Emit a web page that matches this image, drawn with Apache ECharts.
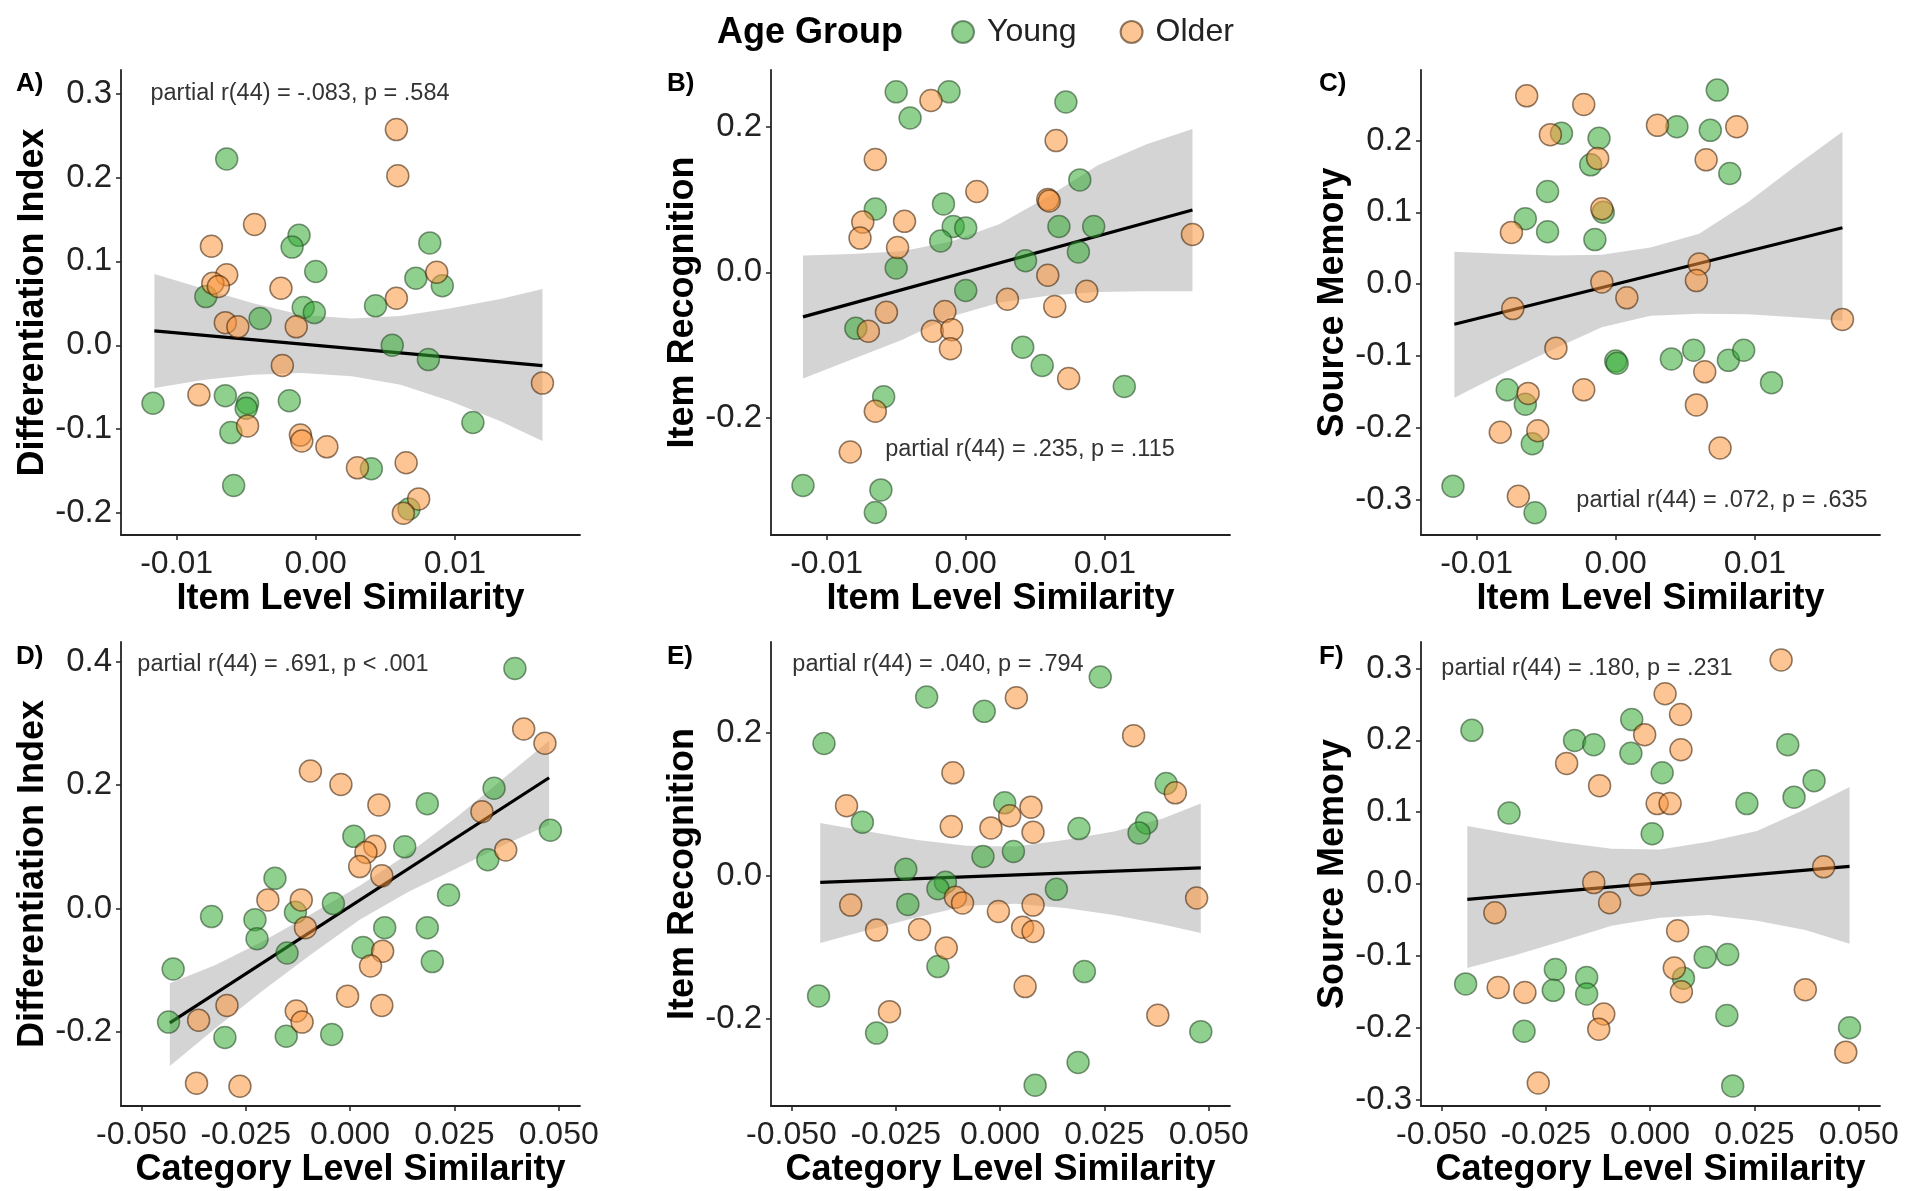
<!DOCTYPE html>
<html><head><meta charset="utf-8">
<script src="https://cdn.jsdelivr.net/npm/echarts@6/dist/echarts.min.js"></script>
<style>html,body{margin:0;padding:0;background:#fff}#c{width:1911px;height:1191px}</style>
</head><body><div id="c"></div>
<script>
// ---------- DATA ----------
const itemTicks = [-0.01, 0, 0.01];
const catTicks = [-0.05, -0.025, 0, 0.025, 0.05];
const yTicksA = [-0.2, -0.1, 0, 0.1, 0.2, 0.3];
const yTicksB = [-0.2, 0, 0.2];
const yTicksC = [-0.3, -0.2, -0.1, 0, 0.1, 0.2];
const yTicksD = [-0.2, 0, 0.2, 0.4];
const yTicksE = [-0.2, 0, 0.2];
const yTicksF = [-0.3, -0.2, -0.1, 0, 0.1, 0.2, 0.3];

const aYoung = [[-0.0064,0.222],[-0.0012,0.131],[-0.0017,0.117],[0.0082,0.122],[0.0,0.088],[0.0072,0.080],[0.0091,0.071],[-0.0079,0.058],[-0.0040,0.032],[-0.0009,0.045],[-0.0001,0.039],[0.0043,0.047],[0.0055,0.000],[0.0081,-0.017],[-0.0117,-0.069],[-0.0065,-0.060],[-0.0049,-0.069],[-0.0050,-0.075],[-0.0019,-0.066],[-0.0061,-0.104],[0.0113,-0.092],[0.0040,-0.147],[-0.0059,-0.167],[0.0067,-0.195]];
const aOlder = [[0.0058,0.257],[0.0059,0.202],[-0.0044,0.144],[-0.0075,0.118],[-0.0064,0.084],[-0.0074,0.074],[-0.0070,0.070],[-0.0025,0.068],[0.0087,0.087],[0.0058,0.056],[-0.0065,0.027],[-0.0056,0.022],[-0.0014,0.022],[-0.0024,-0.024],[-0.0084,-0.059],[-0.0049,-0.096],[-0.0011,-0.107],[-0.0010,-0.114],[0.0008,-0.121],[0.0030,-0.146],[0.0065,-0.140],[0.0074,-0.183],[0.0063,-0.200],[0.0163,-0.045]];
const bYoung = [[-0.0050,0.248],[-0.0012,0.248],[-0.0040,0.212],[0.0072,0.234],[0.0082,0.127],[-0.0016,0.094],[-0.0065,0.087],[-0.0009,0.063],[0.0,0.061],[0.0067,0.063],[0.0092,0.063],[-0.0018,0.043],[-0.0050,0.006],[0.0043,0.016],[0.0081,0.028],[0.0,-0.025],[-0.0079,-0.077],[0.0041,-0.103],[0.0055,-0.128],[0.0114,-0.157],[-0.0059,-0.171],[-0.0117,-0.293],[-0.0061,-0.299],[-0.0065,-0.330]];
const bOlder = [[-0.0025,0.236],[-0.0065,0.155],[0.0008,0.111],[0.0059,0.100],[0.0060,0.098],[0.0065,0.181],[-0.0074,0.069],[-0.0076,0.047],[-0.0044,0.070],[-0.0049,0.034],[0.0163,0.052],[0.0059,-0.004],[0.0087,-0.026],[0.0030,-0.037],[0.0064,-0.047],[-0.0057,-0.055],[-0.0070,-0.081],[-0.0015,-0.054],[-0.0024,-0.081],[-0.0010,-0.079],[-0.0011,-0.105],[0.0074,-0.146],[-0.0065,-0.191],[-0.0083,-0.247]];
const cYoung = [[0.0073,0.270],[0.0044,0.219],[0.0068,0.214],[-0.0039,0.210],[-0.0012,0.203],[-0.0018,0.166],[0.0082,0.154],[-0.0049,0.129],[-0.0065,0.091],[-0.0049,0.073],[-0.0009,0.100],[-0.0015,0.062],[0.0,-0.107],[0.0001,-0.110],[0.0040,-0.104],[0.0056,-0.092],[0.0081,-0.106],[0.0092,-0.092],[0.0112,-0.137],[-0.0078,-0.147],[-0.0065,-0.167],[-0.0060,-0.222],[-0.0117,-0.281],[-0.0058,-0.318]];
const cOlder = [[-0.0064,0.262],[-0.0023,0.250],[-0.0047,0.208],[0.0030,0.221],[0.0087,0.219],[-0.0013,0.175],[0.0065,0.173],[-0.0010,0.105],[-0.0075,0.072],[0.0060,0.028],[-0.0010,0.003],[0.0058,0.005],[0.0008,-0.019],[-0.0074,-0.034],[0.0163,-0.049],[-0.0043,-0.089],[0.0064,-0.122],[-0.0063,-0.152],[-0.0023,-0.147],[-0.0056,-0.204],[-0.0083,-0.206],[0.0058,-0.168],[0.0075,-0.228],[-0.0070,-0.295]];
const dYoung = [[0.0395,0.389],[0.0345,0.195],[0.0480,0.127],[0.0185,0.170],[0.0009,0.117],[0.0131,0.100],[0.0330,0.079],[-0.0180,0.049],[-0.0040,0.008],[0.0236,0.022],[-0.0332,-0.013],[-0.0228,-0.018],[-0.0131,-0.006],[-0.0223,-0.049],[0.0083,-0.031],[0.0185,-0.031],[-0.0151,-0.072],[0.0031,-0.063],[0.0197,-0.086],[-0.0424,-0.098],[-0.0435,-0.184],[-0.0300,-0.209],[-0.0153,-0.207],[-0.0044,-0.204]];
const dOlder = [[0.0416,0.291],[0.0467,0.268],[-0.0095,0.223],[-0.0022,0.201],[0.0069,0.168],[0.0316,0.157],[0.0373,0.095],[0.0059,0.101],[0.0038,0.091],[0.0023,0.068],[0.0076,0.053],[-0.0197,0.014],[-0.0117,0.014],[-0.0107,-0.031],[0.0078,-0.069],[0.0049,-0.093],[-0.0006,-0.142],[0.0076,-0.157],[-0.0295,-0.157],[-0.0129,-0.166],[-0.0115,-0.184],[-0.0363,-0.181],[-0.0368,-0.283],[-0.0264,-0.288]];
const eYoung = [[0.0240,0.278],[-0.0176,0.250],[-0.0038,0.230],[-0.0422,0.185],[0.0398,0.129],[0.0011,0.102],[-0.0330,0.075],[0.0189,0.066],[0.0351,0.074],[0.0333,0.060],[0.0032,0.034],[-0.0041,0.027],[-0.0226,0.009],[-0.0131,-0.009],[-0.0149,-0.018],[0.0135,-0.019],[-0.0221,-0.040],[-0.0149,-0.127],[0.0202,-0.134],[-0.0435,-0.168],[-0.0296,-0.220],[0.0481,-0.218],[0.0187,-0.261],[0.0084,-0.293]];
const eOlder = [[0.0039,0.249],[0.0320,0.196],[-0.0113,0.144],[-0.0368,0.098],[0.0420,0.116],[0.0074,0.096],[0.0023,0.084],[-0.0117,0.069],[-0.0022,0.067],[0.0079,0.061],[-0.0358,-0.041],[-0.0107,-0.030],[-0.0090,-0.038],[-0.0004,-0.050],[0.0079,-0.041],[0.0471,-0.031],[-0.0296,-0.076],[-0.0193,-0.075],[0.0054,-0.072],[0.0079,-0.078],[-0.0129,-0.101],[0.0060,-0.155],[-0.0265,-0.190],[0.0378,-0.195]];
const fYoung = [[-0.0427,0.214],[-0.0181,0.200],[-0.0135,0.194],[-0.0044,0.229],[-0.0046,0.182],[0.0029,0.155],[0.0330,0.194],[0.0393,0.144],[0.0345,0.121],[0.0232,0.112],[-0.0338,0.099],[0.0005,0.070],[0.0132,-0.102],[0.0186,-0.098],[-0.0227,-0.119],[-0.0152,-0.130],[-0.0442,-0.139],[-0.0232,-0.148],[-0.0152,-0.153],[0.0080,-0.131],[-0.0302,-0.205],[0.0184,-0.183],[0.0478,-0.200],[0.0198,-0.281]];
const fOlder = [[0.0314,0.312],[0.0036,0.265],[0.0073,0.236],[-0.0013,0.208],[0.0074,0.187],[-0.0200,0.168],[-0.0121,0.137],[0.0017,0.112],[0.0048,0.112],[0.0416,0.024],[-0.0135,0.002],[-0.0024,-0.001],[-0.0097,-0.026],[-0.0372,-0.040],[0.0066,-0.065],[0.0058,-0.117],[0.0075,-0.150],[-0.0364,-0.144],[-0.0300,-0.151],[0.0372,-0.147],[-0.0111,-0.181],[-0.0123,-0.202],[0.0469,-0.234],[-0.0268,-0.277]];

const aFit = [[-0.0116,0.0173],[0.0163,-0.0241]];
const bFit = [[-0.0117,-0.0612],[0.0163,0.0857]];
const cFit = [[-0.0116,-0.0557],[0.0163,0.0786]];
const dFit = [[-0.0432,-0.1854],[0.0477,0.2120]];
const eFit = [[-0.0431,-0.0092],[0.0481,0.0112]];
const fFit = [[-0.0438,-0.0214],[0.0478,0.0245]];

const aBandX = [-0.0116,-0.0080,-0.0045,-0.0010,0.0026,0.0061,0.0096,0.0132,0.0163];
const aBandHi = [0.085,0.067,0.050,0.036,0.032,0.035,0.044,0.055,0.067];
const aBandLo = [-0.051,-0.041,-0.035,-0.033,-0.037,-0.047,-0.066,-0.090,-0.114];
const bBandX = [-0.0117,-0.0082,-0.0046,-0.0011,0.0024,0.0060,0.0095,0.0130,0.0163];
const bBandHi = [0.023,0.025,0.029,0.042,0.066,0.105,0.147,0.176,0.197];
const bBandLo = [-0.146,-0.120,-0.093,-0.061,-0.042,-0.032,-0.027,-0.026,-0.026];
const cBandX = [-0.0116,-0.0079,-0.0044,-0.0010,0.0025,0.0060,0.0095,0.0129,0.0163];
const cBandHi = [0.045,0.042,0.040,0.041,0.051,0.070,0.114,0.164,0.212];
const cBandLo = [-0.158,-0.122,-0.090,-0.060,-0.044,-0.041,-0.042,-0.046,-0.051];
const dBandX = [-0.0432,-0.0324,-0.0209,-0.0093,0.0023,0.0139,0.0255,0.0371,0.0477];
const dBandHi = [-0.121,-0.092,-0.053,-0.009,0.037,0.089,0.148,0.213,0.272];
const dBandLo = [-0.255,-0.195,-0.133,-0.074,-0.018,0.027,0.065,0.104,0.136];
const eBandX = [-0.0431,-0.0316,-0.0198,-0.0080,0.0037,0.0155,0.0273,0.0390,0.0481];
const eBandHi = [0.074,0.062,0.050,0.042,0.041,0.050,0.062,0.080,0.101];
const eBandLo = [-0.094,-0.076,-0.058,-0.042,-0.039,-0.045,-0.055,-0.068,-0.080];
const fBandX = [-0.0438,-0.0324,-0.0208,-0.0092,0.0024,0.0140,0.0256,0.0372,0.0478];
const fBandHi = [0.081,0.069,0.058,0.049,0.048,0.059,0.074,0.104,0.135];
const fBandLo = [-0.117,-0.099,-0.079,-0.058,-0.047,-0.043,-0.051,-0.064,-0.083];

const panelLetters = ['A)', 'B)', 'C)', 'D)', 'E)', 'F)'];
const statTexts = ['partial r(44) = -.083, p = .584', 'partial r(44) = .235, p = .115', 'partial r(44) = .072, p = .635',
                   'partial r(44) = .691, p < .001', 'partial r(44) = .040, p = .794', 'partial r(44) = .180, p = .231'];
const xTitles = ['Item Level Similarity', 'Category Level Similarity'];
const yTitles = ['Differentiation Index', 'Item Recognition', 'Source Memory'];
const groupNames = ['Young', 'Older'];
const legendTitle = 'Age Group';

// ---------- LAYOUT / STYLE ----------
const FONT = '"Liberation Sans", Arial, Helvetica, sans-serif';
const colLeft = [121, 771, 1421];
const rowTop = [70, 642];
const gridW = 459, gridH = [465, 464];
const xRanges = [[-0.0140, 0.0190], [-0.0549, 0.0551]];
const yRanges = [[-0.226, 0.328], [-0.361, 0.278], [-0.349, 0.298], [-0.320, 0.432], [-0.322, 0.327], [-0.309, 0.337]];
const yTickSets = [yTicksA, yTicksB, yTicksC, yTicksD, yTicksE, yTicksF];
const youngSets = [aYoung, bYoung, cYoung, dYoung, eYoung, fYoung];
const olderSets = [aOlder, bOlder, cOlder, dOlder, eOlder, fOlder];
const fits = [aFit, bFit, cFit, dFit, eFit, fFit];
const bands = [[aBandX, aBandLo, aBandHi], [bBandX, bBandLo, bBandHi], [cBandX, cBandLo, cBandHi],
               [dBandX, dBandLo, dBandHi], [eBandX, eBandLo, eBandHi], [fBandX, fBandLo, fBandHi]];
const statPos = [[300, 94], [1030, 450], [1722, 501], [283, 665], [938, 665], [1587, 669]];
const letterPos = [[16, 84], [667, 84], [1319, 84], [16, 657], [667, 657], [1319, 657]];

const axisCol = '#222';
const youngStyle = { color: '#33aa33', borderColor: '#224422', borderWidth: 1.5, opacity: 0.55 };
const olderStyle = { color: '#fc963c', borderColor: '#331a00', borderWidth: 1.5, opacity: 0.55 };

const grids = [], xAxes = [], yAxes = [], series = [], graphics = [];
for (let i = 0; i < 6; i++) {
  const r = Math.floor(i / 3), c = i % 3;
  grids.push({ left: colLeft[c], top: rowTop[r], width: gridW, height: gridH[r], containLabel: false });
  const xt = r === 0 ? itemTicks : catTicks;
  const dec = r === 0 ? 2 : 3;
  xAxes.push({
    type: 'value', gridIndex: i, min: xRanges[r][0], max: xRanges[r][1],
    name: xTitles[r], nameLocation: 'middle', nameGap: 46,
    nameTextStyle: { fontFamily: FONT, fontSize: 36, fontWeight: 'bold', color: '#000' },
    axisLine: { show: true, onZero: false, lineStyle: { color: axisCol, width: 1.8 } },
    axisTick: { show: true, inside: false, length: 5, customValues: xt, lineStyle: { color: axisCol, width: 1.5 } },
    axisLabel: { show: true, customValues: xt, margin: 13, fontFamily: FONT, fontSize: 32, color: '#222',
                 formatter: v => Number(v).toFixed(dec) },
    splitLine: { show: false }
  });
  yAxes.push({
    type: 'value', gridIndex: i, min: yRanges[i][0], max: yRanges[i][1],
    name: yTitles[c], nameLocation: 'middle', nameGap: 66,
    nameTextStyle: { fontFamily: FONT, fontSize: 36, fontWeight: 'bold', color: '#000' },
    axisLine: { show: true, onZero: false, lineStyle: { color: axisCol, width: 1.8 } },
    axisTick: { show: true, inside: false, length: 5, customValues: yTickSets[i], lineStyle: { color: axisCol, width: 1.5 } },
    axisLabel: { show: true, customValues: yTickSets[i], margin: 9, fontFamily: FONT, fontSize: 33, color: '#222',
                 formatter: v => Number(v).toFixed(1) },
    splitLine: { show: false }
  });
  const [bx, blo, bhi] = bands[i];
  series.push({
    type: 'custom', xAxisIndex: i, yAxisIndex: i, z: 1, silent: true,
    data: bx.map((x, k) => [x, blo[k], bhi[k]]),
    encode: { x: 0, y: [1, 2] },
    renderItem: function (params, api) {
      if (params.dataIndex !== 0) return null;
      const pts = [];
      for (let k = 0; k < bx.length; k++) pts.push(api.coord([bx[k], bhi[k]]));
      for (let k = bx.length - 1; k >= 0; k--) pts.push(api.coord([bx[k], blo[k]]));
      return { type: 'polygon', shape: { points: pts }, style: { fill: 'rgba(153,153,153,0.42)' } };
    }
  });
  series.push({
    type: 'line', xAxisIndex: i, yAxisIndex: i, z: 2, data: fits[i], symbol: 'none', silent: true,
    lineStyle: { color: '#000', width: 3.2 }
  });
  series.push({
    type: 'scatter', name: groupNames[0], xAxisIndex: i, yAxisIndex: i, z: 3, data: youngSets[i],
    symbol: 'circle', symbolSize: 22, itemStyle: youngStyle
  });
  series.push({
    type: 'scatter', name: groupNames[1], xAxisIndex: i, yAxisIndex: i, z: 3, data: olderSets[i],
    symbol: 'circle', symbolSize: 22, itemStyle: olderStyle
  });
  graphics.push({
    type: 'text', x: statPos[i][0], y: statPos[i][1], z: 10,
    style: { text: statTexts[i], fontFamily: FONT, fontSize: 23.5, fill: '#333', textAlign: 'center', textVerticalAlign: 'middle' }
  });
  graphics.push({
    type: 'text', x: letterPos[i][0], y: letterPos[i][1], z: 10,
    style: { text: panelLetters[i], fontFamily: FONT, fontSize: 26, fontWeight: 'bold', fill: '#000', textAlign: 'left', textVerticalAlign: 'middle' }
  });
}
graphics.push({
  type: 'text', x: 717, y: 33, z: 10,
  style: { text: legendTitle, fontFamily: FONT, fontSize: 36, fontWeight: 'bold', fill: '#000', textAlign: 'left', textVerticalAlign: 'middle' }
});

const chart = echarts.init(document.getElementById('c'), null, { renderer: 'canvas' });
chart.setOption({
  animation: false,
  backgroundColor: '#fff',
  grid: grids, xAxis: xAxes, yAxis: yAxes, series: series,
  legend: {
    data: groupNames, left: 946, top: 11, orient: 'horizontal',
    icon: 'circle', itemWidth: 22, itemHeight: 22, itemGap: 43,
    textStyle: { fontFamily: FONT, fontSize: 32, color: '#222', padding: [0, 0, 0, 8] },
    selectedMode: false
  },
  graphic: graphics
});
</script></body></html>
